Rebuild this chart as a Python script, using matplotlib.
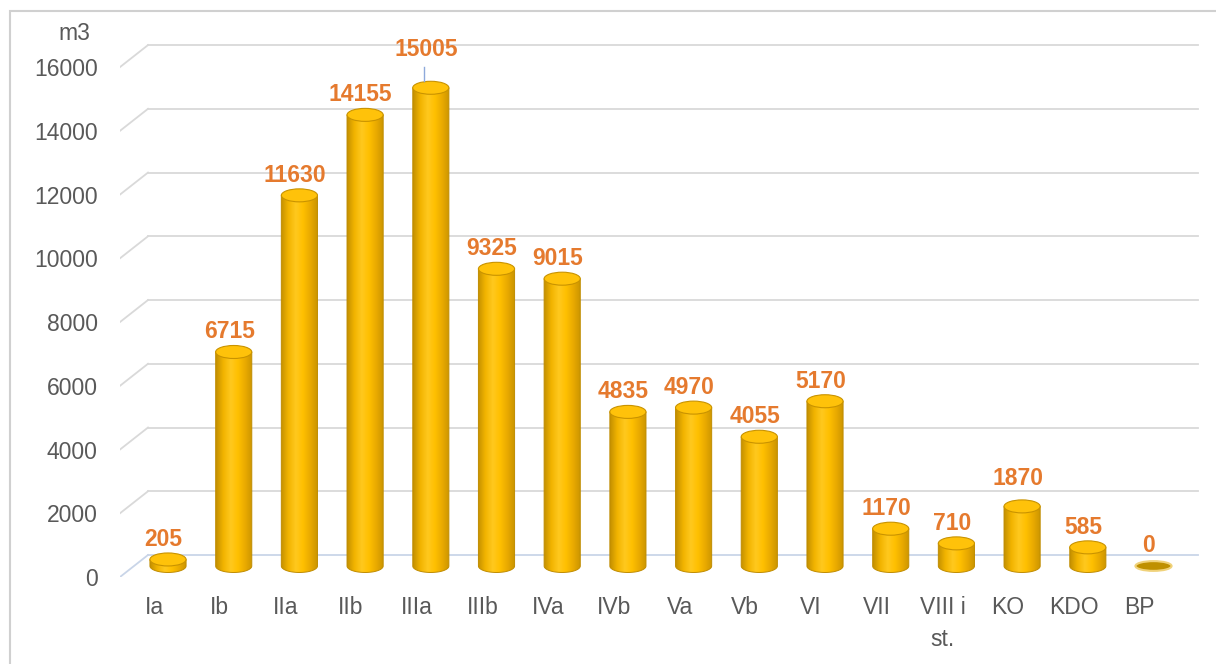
import numpy as np
import matplotlib
matplotlib.use('Agg')
import matplotlib.pyplot as plt
from matplotlib.patches import Ellipse, PathPatch, Rectangle
from matplotlib.path import Path
from matplotlib.colors import LinearSegmentedColormap

# data
categories = ['Ia', 'Ib', 'IIa', 'IIb', 'IIIa', 'IIIb', 'IVa', 'IVb', 'Va', 'Vb',
              'VI', 'VII', 'VIII i\nst.', 'KO', 'KDO', 'BP']
values = [205, 6715, 11630, 14155, 15005, 9325, 9015, 4835, 4970, 4055,
          5170, 1170, 710, 1870, 585, 0]
yticks = [0, 2000, 4000, 6000, 8000, 10000, 12000, 14000, 16000]
unit_label = 'm3'

W, H = 1216, 664
font = 'Liberation Sans'
fs = 16.5
gray = '#595959'
grid_col = '#d9d9d9'
label_col = '#E57A2E'

fig = plt.figure(figsize=(W / 100, H / 100), dpi=100, facecolor='w')

# axes: left edge at the front of the floor, bottom at front zero line
ax_l, ax_b = 120, H - 577
ax = fig.add_axes([ax_l / W, ax_b / H, (W - ax_l) / W, (H - ax_b) / H], frameon=False)

px_x = 65.7                  # pixels per category
px_y = 0.03187               # pixels per unit value
x0 = (ax_l - 154) / px_x     # category 0 label sits at x=154 px
xmax = x0 + (W - ax_l) / px_x
ymax = 577 / px_y

# depth offset of the 3D back wall
dx = 28 / px_x
dy = 22 / px_y

# gridlines: slanted on the side wall, horizontal on the back wall
back_right = (1198 - 154) / px_x
for t in yticks:
	c = '#c9d5e8' if t == 0 else grid_col
	ax.plot([x0, x0 + dx], [t, t + dy], color=c, lw=1.3, zorder=1)
	ax.plot([x0 + dx, back_right], [t + dy, t + dy], color=c, lw=1.3, zorder=1)

# cylinders
cmap = LinearSegmentedColormap.from_list('gold', ['#C38F00', '#F2B400', '#FFC81E', '#FFC000', '#E8A900', '#C99400'])
grad = np.linspace(0, 1, 256)[None, :]
a = 0.275            # half width in category units
b = 6.5 / px_y       # half height of ellipse in value units
for i, v in enumerate(values):
	xc = i + dx / 2
	yb = dy / 2
	yt = v + dy / 2
	if v > 0:
		th = np.linspace(np.pi, 2 * np.pi, 60)
		verts = [(xc - a, yt)] + list(zip(xc + a * np.cos(th), yb + b * np.sin(th))) + [(xc + a, yt), (xc - a, yt)]
		codes = [Path.MOVETO] + [Path.LINETO] * (len(verts) - 2) + [Path.CLOSEPOLY]
		body = PathPatch(Path(verts, codes), fc='none', ec='#C08C00', lw=0.7, zorder=3)
		ax.add_patch(body)
		im = ax.imshow(grad, extent=[xc - a, xc + a, yb - b, yt], aspect='auto', cmap=cmap, zorder=2)
		im.set_clip_path(body)
		ax.add_patch(Ellipse((xc, yt), 2 * a, 2 * b, fc='#FFC20A', ec='#C99300', lw=0.8, zorder=4))
	else:
		ax.add_patch(Ellipse((xc, yt), 2 * a, 2 * b * 0.75, fc='#BF9000', ec='#F0D27A', lw=1.5, zorder=4))

	# value label
	off = 20
	if v == max(values):
		off = 38
		ax.plot([xc - 0.11, xc - 0.11], [yt + 7 / px_y, yt + 21 / px_y], color='#8EA9DB', lw=1, zorder=5)
	elif v == 1870:
		off = 28
	ax.text(xc - 0.07, yt + off / px_y, f'{v}', ha='center', va='center',
			fontsize=fs, fontweight='bold', color=label_col, family=font, zorder=6)

ax.set_xlim(x0, xmax)
ax.set_ylim(0, ymax)

ax.set_yticks(yticks)
ax.set_yticklabels([str(t) for t in yticks], fontsize=fs, color=gray, family=font)
ax.set_xticks(range(len(categories)))
ax.set_xticklabels(categories, fontsize=fs, color=gray, family=font, linespacing=1.5)
ax.tick_params(axis='y', length=0, pad=16)
ax.tick_params(axis='x', length=0, pad=14)

fig.text(74 / W, 1 - 33 / H, unit_label, ha='center', va='center', fontsize=fs, color=gray, family=font)

# chart area frame
fig.patches.append(Rectangle((10 / W, -0.1), 1.2, 1 - 11 / H + 0.1, transform=fig.transFigure,
							 fc='none', ec='#d0d0d0', lw=1.5, zorder=0))

fig.savefig('out.png', dpi=100)
